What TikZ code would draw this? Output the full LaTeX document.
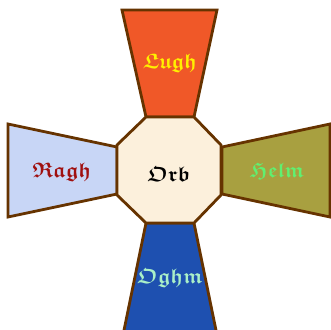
\documentclass[tikz,border=0pt]{standalone}
\usepackage{amsmath}
\usepackage{amssymb}
\definecolor{edge}{RGB}{102,51,0}
\definecolor{lughfill}{RGB}{240,88,40}
\definecolor{lughtext}{RGB}{255,240,0}
\definecolor{raghfill}{RGB}{200,214,246}
\definecolor{raghtext}{RGB}{160,16,16}
\definecolor{helmfill}{RGB}{168,160,64}
\definecolor{helmtext}{RGB}{96,240,112}
\definecolor{oghmfill}{RGB}{30,80,176}
\definecolor{oghmtext}{RGB}{170,240,200}
\definecolor{orbfill}{RGB}{252,240,220}
\newcommand{\gothlbl}[1]{$\boldsymbol{\mathfrak{#1}}$}
\tikzset{
  panel/.style={draw=edge, line width=2.8pt, line join=miter},
  lbl/.style={font=\fontsize{21}{21}\selectfont, inner sep=0pt}
}
\begin{document}
\begin{tikzpicture}[x=1pt,y=-1pt]
\useasboundingbox (0,0) rectangle (331,329);
\clip (0,0) rectangle (331,329);
% trapezoids
\filldraw[panel, fill=lughfill] (122,10) -- (217,10) -- (194,117) -- (146,117) -- cycle;
\filldraw[panel, fill=raghfill] (8,124) -- (117,147) -- (117,194) -- (8,217) -- cycle;
\filldraw[panel, fill=helmfill] (330,124) -- (222,147) -- (222,194) -- (330,217) -- cycle;
\filldraw[panel, fill=oghmfill] (146,223) -- (194,223) -- (218,340) -- (122,340) -- cycle;
% octagon
\filldraw[panel, fill=orbfill] (146,117) -- (194,117) -- (221,145) -- (221,195) -- (194,223) -- (146,223) -- (117,195) -- (117,145) -- cycle;
% labels
\node[lbl, text=lughtext] (lugh) at (170,63) {\gothlbl{Lugh}};
\node[lbl, text=raghtext] (ragh) at (62,172) {\gothlbl{Ragh}};
\node[lbl, text=helmtext] (helm) at (277,171) {\gothlbl{Helm}};
\node[lbl, text=oghmtext] (oghm) at (170,278) {\gothlbl{Oghm}};
\node[lbl, text=black] (orb) at (169,174) {\gothlbl{Orb}};
\end{tikzpicture}
\end{document}
